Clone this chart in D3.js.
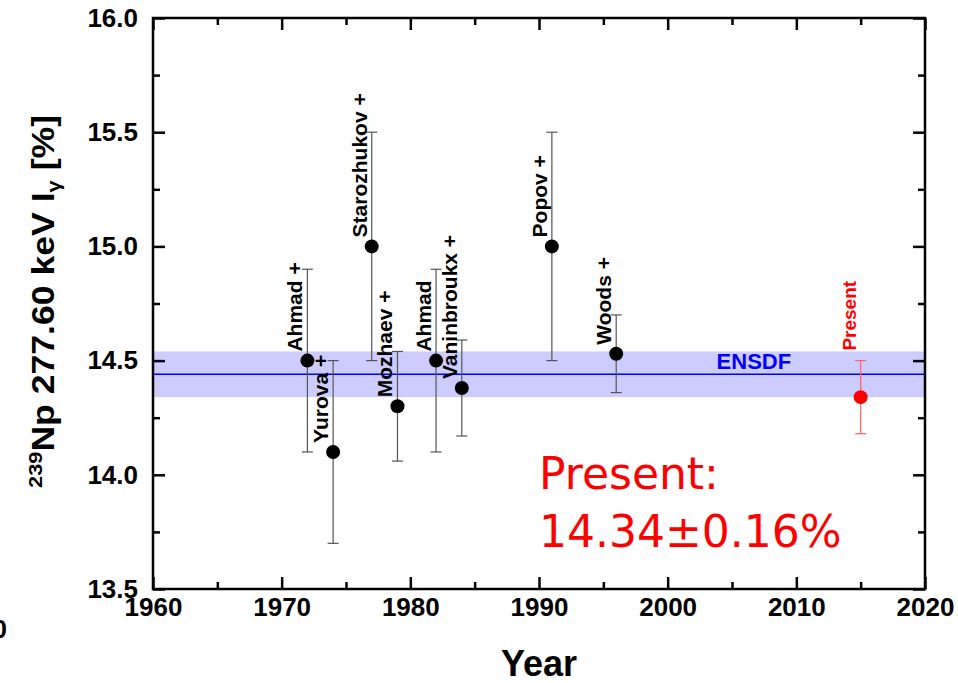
<!DOCTYPE html>
<html>
<head>
<meta charset="utf-8">
<script src="https://cdn.jsdelivr.net/npm/d3@7"></script>
<style>
    body { margin: 0; background: #fff; }
    text { font-family: "Liberation Sans", Arial, sans-serif; }
</style>
</head>
<body>
<div id="chart"></div>
<script>

let years  = [1972, 1974, 1977, 1979, 1982, 1984, 1991, 1996, 2015];
let values = [14.50, 14.10, 15.00, 14.30, 14.50, 14.38, 15.00, 14.53, 14.34];
let errLow  = [14.10, 13.70, 14.50, 14.06, 14.10, 14.17, 14.50, 14.36, 14.18];
let errHigh = [14.90, 14.50, 15.50, 14.54, 14.90, 14.59, 15.50, 14.70, 14.50];
let names  = ["Ahmad +", "Yurova +", "Starozhukov +", "Mozhaev +", "Ahmad",
              "Vaninbroukx +", "Popov +", "Woods +", "Present"];

// evaluated value (ENSDF)
let ensdfValue = 14.44;
let ensdfUnc = 0.10;

let xTicks = [1960, 1970, 1980, 1990, 2000, 2010, 2020];
let xMinor = [1965, 1975, 1985, 1995, 2005, 2015];
let yTicks = [13.5, 14.0, 14.5, 15.0, 15.5, 16.0];
let yMinor = [13.75, 14.25, 14.75, 15.25, 15.75];

let points = years.map((y, i) => ({
    year: y, value: values[i], lo: errLow[i], hi: errHigh[i], name: names[i],
    present: names[i] === "Present"
}));

let width = 958, height = 683;
let margin = {top: 18, right: 33, bottom: 94, left: 153};

let svg = d3.select("#chart").append("svg")
    .attr("width", width)
    .attr("height", height);

let x = d3.scaleLinear().domain([1960, 2020]).range([margin.left, width - margin.right]);
let y = d3.scaleLinear().domain([13.5, 16]).range([height - margin.bottom, margin.top]);

// ENSDF band + line
svg.append("rect")
    .attr("x", x(1960))
    .attr("width", x(2020) - x(1960))
    .attr("y", y(ensdfValue + ensdfUnc))
    .attr("height", y(ensdfValue - ensdfUnc) - y(ensdfValue + ensdfUnc))
    .attr("fill", "#ccccff");

svg.append("line")
    .attr("x1", x(1960)).attr("x2", x(2020))
    .attr("y1", y(ensdfValue)).attr("y2", y(ensdfValue))
    .attr("stroke", "#0000ff")
    .attr("stroke-width", 1.5);

svg.append("text")
    .attr("x", x(2006.7))
    .attr("y", y(ensdfValue) - 5)
    .attr("text-anchor", "middle")
    .attr("font-size", 22)
    .attr("font-weight", "bold")
    .attr("fill", "#0000ff")
    .text("ENSDF");

// error bars
let bars = svg.append("g").selectAll("g")
    .data(points).enter().append("g")
    .attr("stroke", d => d.present ? "#ff6060" : "#555")
    .attr("stroke-width", 1.2);

bars.append("line")
    .attr("x1", d => x(d.year)).attr("x2", d => x(d.year))
    .attr("y1", d => y(d.lo)).attr("y2", d => y(d.hi));

bars.append("line")
    .attr("x1", d => x(d.year) - 5.5).attr("x2", d => x(d.year) + 5.5)
    .attr("y1", d => y(d.lo)).attr("y2", d => y(d.lo));

bars.append("line")
    .attr("x1", d => x(d.year) - 5.5).attr("x2", d => x(d.year) + 5.5)
    .attr("y1", d => y(d.hi)).attr("y2", d => y(d.hi));

// points
svg.append("g").selectAll("circle")
    .data(points).enter().append("circle")
    .attr("cx", d => x(d.year))
    .attr("cy", d => y(d.value))
    .attr("r", 7)
    .attr("fill", d => d.present ? "#ff0000" : "#000");

// rotated author labels
svg.append("g").selectAll("text")
    .data(points).enter().append("text")
    .attr("transform", d => {
        let ly = d.present ? y(d.hi) - 10 : y(d.value) - 9;
        return `translate(${x(d.year) - 5}, ${ly}) rotate(-90)`;
    })
    .attr("font-size", d => d.present ? 19 : 21)
    .attr("font-weight", "bold")
    .attr("fill", d => d.present ? "#ff0000" : "#000")
    .text(d => d.name);

// axes, ticks pointing inward
function styleAxis(g) {
    g.select(".domain").remove();
    g.selectAll(".tick line").attr("stroke", "#000").attr("stroke-width", 2.5);
    g.selectAll(".tick text")
        .attr("font-size", 26)
        .attr("font-weight", "bold")
        .attr("fill", "#000")
        .style("font-family", "'Liberation Sans', Arial, sans-serif");
}

svg.append("g")
    .attr("transform", `translate(0, ${y(13.5)})`)
    .call(d3.axisBottom(x).tickValues(xTicks).tickSize(-12).tickPadding(9).tickFormat(d3.format("d")))
    .call(styleAxis);
svg.append("g")
    .attr("transform", `translate(0, ${y(13.5)})`)
    .call(d3.axisBottom(x).tickValues(xMinor).tickSize(-7).tickFormat(""))
    .call(styleAxis);
svg.append("g")
    .attr("transform", `translate(0, ${y(16)})`)
    .call(d3.axisTop(x).tickValues(xTicks).tickSize(-12).tickFormat(""))
    .call(styleAxis);
svg.append("g")
    .attr("transform", `translate(0, ${y(16)})`)
    .call(d3.axisTop(x).tickValues(xMinor).tickSize(-7).tickFormat(""))
    .call(styleAxis);

svg.append("g")
    .attr("transform", `translate(${x(1960)}, 0)`)
    .call(d3.axisLeft(y).tickValues(yTicks).tickSize(-12).tickPadding(15).tickFormat(d3.format(".1f")))
    .call(styleAxis);
svg.append("g")
    .attr("transform", `translate(${x(1960)}, 0)`)
    .call(d3.axisLeft(y).tickValues(yMinor).tickSize(-7).tickFormat(""))
    .call(styleAxis);
svg.append("g")
    .attr("transform", `translate(${x(2020)}, 0)`)
    .call(d3.axisRight(y).tickValues(yTicks).tickSize(-12).tickFormat(""))
    .call(styleAxis);
svg.append("g")
    .attr("transform", `translate(${x(2020)}, 0)`)
    .call(d3.axisRight(y).tickValues(yMinor).tickSize(-7).tickFormat(""))
    .call(styleAxis);

// frame
svg.append("rect")
    .attr("x", x(1960)).attr("y", y(16))
    .attr("width", x(2020) - x(1960))
    .attr("height", y(13.5) - y(16))
    .attr("fill", "none")
    .attr("stroke", "#000")
    .attr("stroke-width", 2.5);

// axis titles
svg.append("text")
    .attr("x", (x(1960) + x(2020)) / 2)
    .attr("y", 676)
    .attr("text-anchor", "middle")
    .attr("font-size", 36)
    .attr("font-weight", "bold")
    .text("Year");

let yLabel = svg.append("text")
    .attr("transform", `translate(54, 488) rotate(-90)`)
    .attr("font-size", 31)
    .attr("font-weight", "bold")
    .attr("textLength", 373)
    .attr("lengthAdjust", "spacingAndGlyphs");
yLabel.append("tspan").attr("font-size", 19).attr("dy", -12).text("239");
yLabel.append("tspan").attr("dy", 12).text("Np 277.60 keV I");
yLabel.append("tspan").attr("font-size", 19).attr("dy", 6).text("γ");
yLabel.append("tspan").attr("dy", -6).text(" [%]");

// stray digit from neighbouring panel
svg.append("text")
    .attr("x", 7).attr("y", 638)
    .attr("text-anchor", "end")
    .attr("font-size", 26)
    .attr("font-weight", "bold")
    .text("0");

// result annotation
let note = svg.append("text")
    .style("font-family", "'Comic Sans MS', 'DejaVu Sans', sans-serif")
    .attr("font-size", 44)
    .attr("fill", "#ff0000");
note.append("tspan").attr("x", 539).attr("y", 489).text("Present:");
note.append("tspan").attr("x", 539).attr("y", 547).text("14.34\u00B10.16%");

</script>
</body>
</html>
